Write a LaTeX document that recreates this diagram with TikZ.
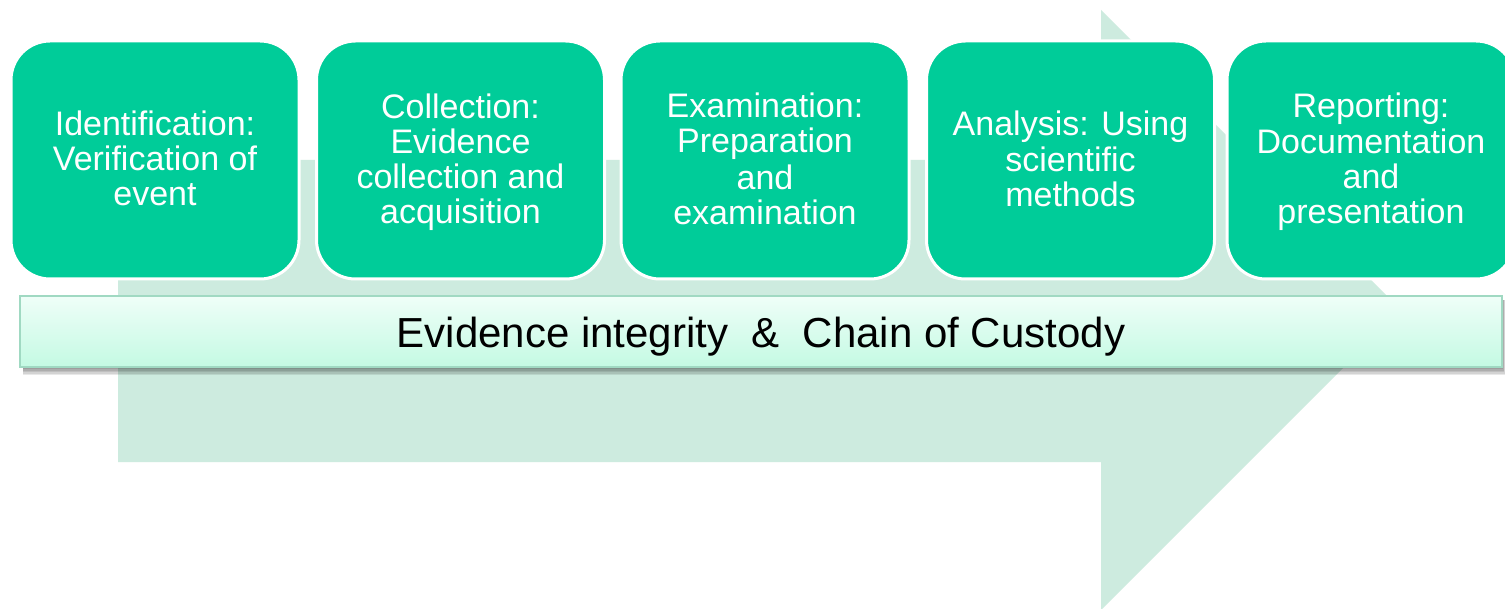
\documentclass[tikz,border=0pt]{standalone}
\usepackage{fontspec}
\setmainfont{Liberation Sans}
\definecolor{boxgreen}{HTML}{00CC99}
\definecolor{arrowgreen}{HTML}{CDEBDF}
\definecolor{bartop}{HTML}{EFFEF8}
\definecolor{barbot}{HTML}{C4FAE3}
\definecolor{barline}{HTML}{A0D9C2}
\newcommand\ms{\rule[-6.5pt]{0pt}{35pt}}
\begin{document}
\begin{tikzpicture}[x=1pt,y=-1pt,
  stagebox/.style={draw=white, line width=3pt, fill=boxgreen, rounded corners=39pt,
    minimum width=288pt, minimum height=238pt, inner sep=0pt, align=center,
    text=white, font=\fontsize{34}{35}\selectfont},
  barbox/.style={draw=barline, line width=2pt, top color=bartop, bottom color=barbot,
    minimum width=1482pt, minimum height=71pt, inner sep=0pt,
    text height=35pt, text depth=2pt, text=black, font=\fontsize{42}{48}\selectfont},
  arrowfill/.style={fill=arrowgreen},
  shadowlayer/.style={fill=black, opacity=0.09}]
\useasboundingbox (0,0) rectangle (1505,609);
\clip (0,0) rectangle (1505,609);
\fill[white] (0,0) rectangle (1505,609);
\fill[arrowfill] (118,160) -- (1101,160) -- (1101,10) -- (1401,310) -- (1101,610) -- (1101,462) -- (118,462) -- cycle;
\foreach \k in {1,2.5,4,5.5,7,8.5}
  \fill[shadowlayer] (23,300) rectangle (1502+0.4*\k,367+\k);
\node[barbox] (bar) at (761,331.5) {Evidence integrity\ \ \&\ \ Chain of Custody};
\node[stagebox] (s1) at (155,160) {\ms Identification:\\\ms Verification of\\\ms event};
\node[stagebox] (s2) at (460.5,160) {\ms Collection:\\\ms Evidence\\\ms collection and\\\ms acquisition};
\node[stagebox] (s3) at (765,160) {\ms Examination:\\\ms Preparation\\\ms and\\\ms examination};
\node[stagebox] (s4) at (1070.5,160) {\ms Analysis: Using\\\ms scientific\\\ms methods};
\node[stagebox] (s5) at (1371,160) {\ms Reporting:\\\ms Documentation\\\ms and\\\ms presentation};
\end{tikzpicture}
\end{document}
